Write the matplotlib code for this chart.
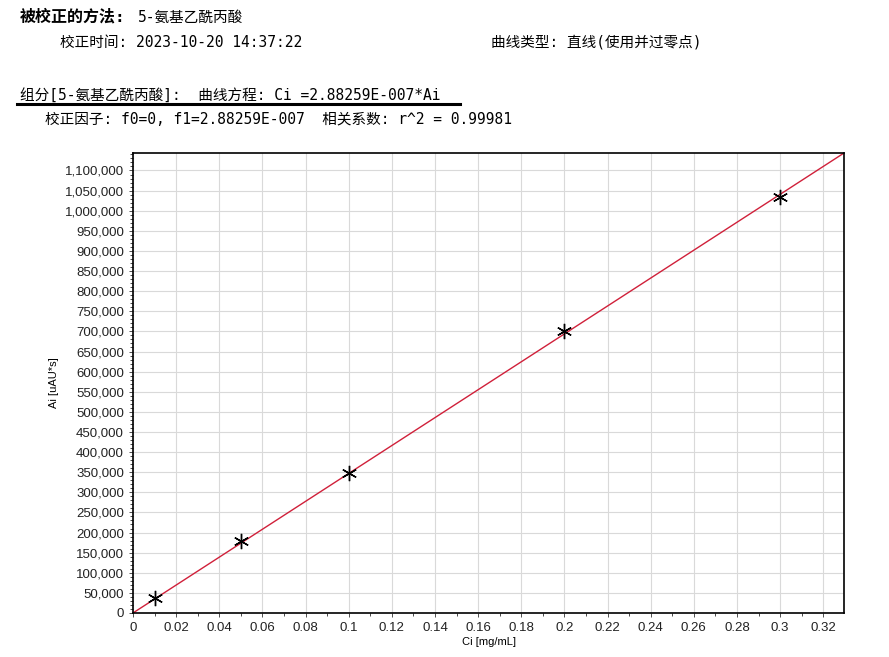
import numpy as np
import matplotlib.pyplot as plt
from matplotlib.ticker import MultipleLocator, FuncFormatter
from matplotlib.lines import Line2D

plt.rcParams['font.family'] = ['Noto Sans CJK SC', 'DejaVu Sans']

# calibration data
conc = [0.01, 0.05, 0.1, 0.2, 0.3]
area = [37000, 178000, 348000, 700000, 1033000]
f1 = 2.88259e-7

method_name = '5-氨基乙酰丙酸'
calib_time = '2023-10-20 14:37:22'
curve_type = '直线(使用并过零点)'
r2 = '0.99981'

fig = plt.figure(figsize=(8.89, 6.57), dpi=100)
ax = fig.add_axes([0.1496, 0.0670, 0.7998, 0.7001])

xmax = 0.3296
ymax = xmax / f1
tfit = np.array([0, xmax])
ax.plot(tfit, tfit / f1, '-', c='#d0203a', lw=1)
ax.plot(conc, area, ls='None', marker=(6, 2, 0), ms=11, mew=1, c='k')

ax.set_xlim([0, xmax])
ax.set_ylim([0, ymax])
ax.xaxis.set_major_locator(MultipleLocator(0.02))
ax.xaxis.set_minor_locator(MultipleLocator(0.01))
ax.yaxis.set_major_locator(MultipleLocator(50000))
ax.yaxis.set_minor_locator(MultipleLocator(10000))
ax.xaxis.set_major_formatter(FuncFormatter(lambda v, p: '0' if v == 0 else ('%.2f' % v).rstrip('0').rstrip('.')))
ax.yaxis.set_major_formatter(FuncFormatter(lambda v, p: '{:,.0f}'.format(v)))
ax.grid(True, color='#d9d9d9', lw=0.8)
ax.set_axisbelow(True)
ax.tick_params(labelsize=9.5, length=3, width=0.6, colors='#333333', labelcolor='#222222')
ax.tick_params(which='minor', length=2, width=0.5)
for lab in ax.get_xticklabels() + ax.get_yticklabels():
    lab.set_family('Liberation Sans')
for s in ax.spines.values():
    s.set_linewidth(1.2)
ax.set_xlabel('Ci [mg/mL]', fontsize=8, family='Liberation Sans', labelpad=2)
ax.set_ylabel('Ai [uAU*s]', fontsize=8, family='Liberation Sans', labelpad=4)

fs = 10.5
mono = ['DejaVu Sans Mono', 'Noto Sans CJK SC']
fig.text(20 / 889, 1 - 17 / 657, '被校正的方法:', fontsize=11.5, fontweight='bold', va='center', family=mono)
fig.text(138 / 889, 1 - 17 / 657, method_name, fontsize=fs, va='center', family=mono)
fig.text(60 / 889, 1 - 42 / 657, '校正时间: ' + calib_time, fontsize=fs, va='center', family=mono)
fig.text(491 / 889, 1 - 42 / 657, '曲线类型: ' + curve_type, fontsize=fs, va='center', family=mono)
fig.text(20 / 889, 1 - 95 / 657, '组分[' + method_name + ']:  曲线方程: Ci =2.88259E-007*Ai',
         fontsize=fs, va='center', family=mono)
fig.add_artist(Line2D([17 / 889, 460 / 889], [1 - 104 / 657, 1 - 104 / 657], color='k', lw=2.2))
fig.text(45 / 889, 1 - 119 / 657, '校正因子: f0=0, f1=2.88259E-007  相关系数: r^2 = ' + r2,
         fontsize=fs, va='center', family=mono)

plt.savefig('out.png', dpi=100)
plt.close()
